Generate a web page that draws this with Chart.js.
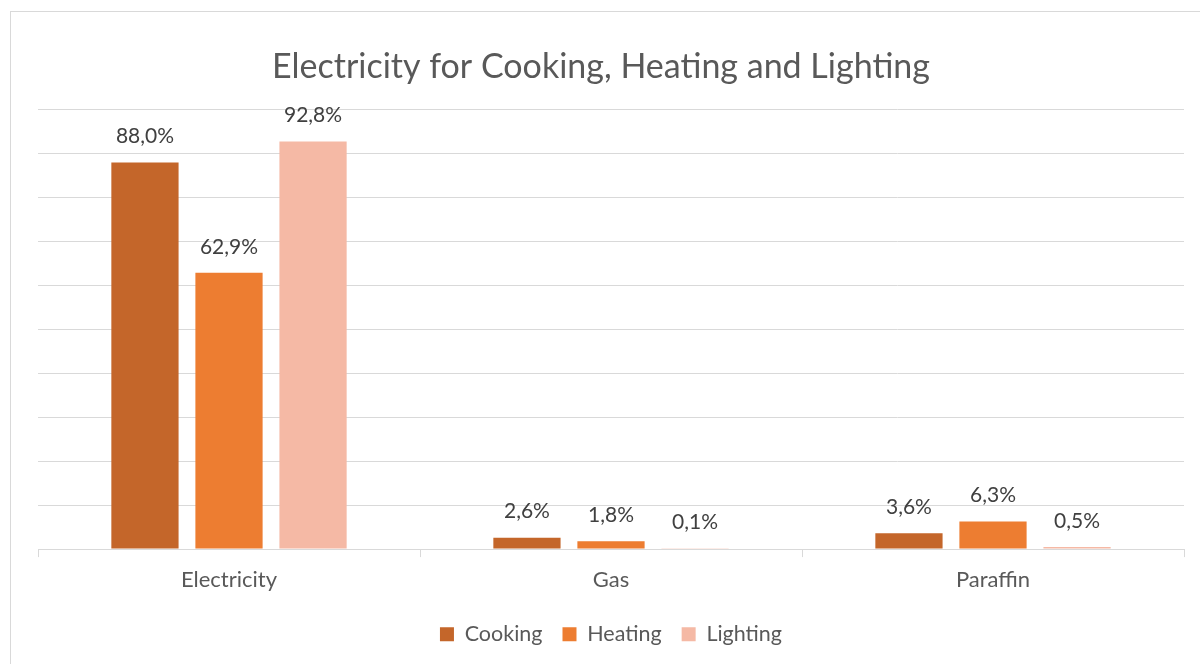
<!DOCTYPE html>
<html>
<head>
<meta charset="utf-8">
<script src="https://cdn.jsdelivr.net/npm/chart.js@4.4.1/dist/chart.umd.min.js"></script>
<style>
  html, body { margin: 0; padding: 0; background: #fff; overflow: hidden; }
  #frame { position: absolute; left: 10px; top: 11px; width: 1200px; height: 700px; border: 1px solid #d9d9d9; box-sizing: border-box; }
  #wrap { position: absolute; left: 0; top: 0; width: 1200px; height: 664px; }
</style>
</head>
<body>
<div id="frame"></div>
<div id="wrap"><canvas id="chart" width="1200" height="664"></canvas></div>
<script>
const categories = ["Electricity", "Gas", "Paraffin"];
const cooking = [88.0, 2.6, 3.6];
const heating = [62.9, 1.8, 6.3];
const lighting = [92.8, 0.1, 0.5];
const yTicks = [0, 10, 20, 30, 40, 50, 60, 70, 80, 90, 100];

const FONT = "Lato, 'Open Sans', sans-serif";

const barLabels = {
  id: "barLabels",
  afterLayout(chart) {
    // centre the title on the whole frame, not on the padded area
    if (chart.titleBlock) {
      chart.titleBlock.left = 0;
      chart.titleBlock.right = 1202;
    }
  },
  afterDatasetsDraw(chart) {
    const { ctx } = chart;
    ctx.save();
    ctx.font = "21px " + FONT;
    ctx.fillStyle = "#404040";
    ctx.textAlign = "center";
    ctx.textBaseline = "middle";
    chart.data.datasets.forEach((ds, i) => {
      chart.getDatasetMeta(i).data.forEach((bar, j) => {
        const text = ds.data[j].toFixed(1).replace(".", ",") + "%";
        ctx.fillText(text, bar.x, bar.y - 26);
      });
    });
    ctx.restore();
  },
};

new Chart(document.getElementById("chart"), {
  type: "bar",
  data: {
    labels: categories,
    datasets: [
      { label: "Cooking", data: cooking, backgroundColor: "#c4662a" },
      { label: "Heating", data: heating, backgroundColor: "#ed7d31" },
      { label: "Lighting", data: lighting, backgroundColor: "#f5b9a5" },
    ],
  },
  options: {
    responsive: false,
    animation: false,
    categoryPercentage: 0.66,
    barPercentage: 0.8,
    layout: { padding: { left: 38, right: 16, top: 47, bottom: 9 } },
    plugins: {
      title: {
        display: true,
        text: "Electricity for Cooking, Heating and Lighting",
        color: "#595959",
        font: { family: FONT, size: 34, weight: "normal" },
        padding: { top: 0, bottom: 22 },
      },
      legend: {
        position: "bottom",
        labels: {
          color: "#595959",
          font: { family: FONT, size: 21.5 },
          boxWidth: 14,
          boxHeight: 14,
          padding: 20,
        },
      },
      tooltip: { enabled: false },
    },
    scales: {
      x: {
        grid: { drawOnChartArea: false, drawTicks: true, tickLength: 8, color: "#d9d9d9" },
        border: { color: "#d9d9d9" },
        ticks: { color: "#595959", font: { family: FONT, size: 22 }, padding: 10 },
      },
      y: {
        min: 0,
        max: 100,
        afterBuildTicks(scale) { scale.ticks = yTicks.map((v) => ({ value: v })); },
        afterFit(scale) { scale.width = 0; },
        ticks: { display: false },
        grid: { color: "#d9d9d9", drawTicks: false },
        border: { display: false },
      },
    },
  },
  plugins: [barLabels],
});
</script>
</body>
</html>
